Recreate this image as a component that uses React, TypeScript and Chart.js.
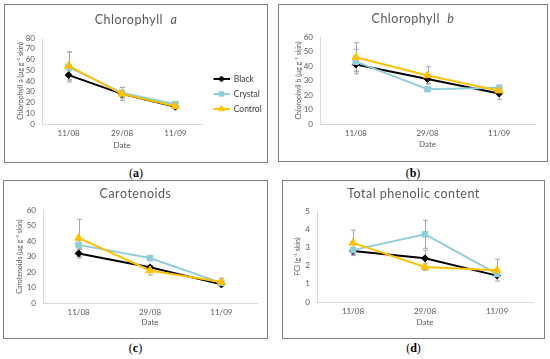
import React, { useEffect, useRef } from 'react';
import { Chart, registerables } from 'chart.js';
import { drawPoint } from 'chart.js/helpers';

Chart.register(...registerables);

// ---------- data ----------
const dates = ['11/08', '29/08', '11/09'];
const seriesNames = ['Black', 'Crystal', 'Control'];

const chlA_Black = [45.5, 28, 16];
const chlA_Crystal = [53, 29, 18.5];
const chlA_Control = [54, 28, 16.5];
const chlA_BlackErr = [4.5, 3, 1];
const chlA_CrystalErr = [14, 5, 2];
const chlA_ControlErr = [13, 6, 1.5];

const chlB_Black = [41, 31, 21];
const chlB_Crystal = [43, 24, 25];
const chlB_Control = [46, 33.5, 23];
const chlB_BlackErr = [4.5, 3, 4];
const chlB_CrystalErr = [8.5, 1, 1.5];
const chlB_ControlErr = [10, 6, 2];

const car_Black = [32, 23, 12];
const car_Crystal = [37.5, 29, 13];
const car_Control = [42, 21, 13.5];
const car_BlackErr = [3, 1, 1];
const car_CrystalErr = [3, 1.5, 1.5];
const car_ControlErr = [12, 3, 2.5];

const tpc_Black = [2.8, 2.4, 1.45];
const tpc_Crystal = [2.85, 3.72, 1.55];
const tpc_Control = [3.25, 1.92, 1.75];
const tpc_BlackErr = [0.2, 0.45, 0.05];
const tpc_CrystalErr = [0.1, 0.77, 0.15];
const tpc_ControlErr = [0.7, 0.18, 0.6];

// ---------- styles ----------
const COLORS = ['#000000', '#92CDDC', '#FFC000'];
const STYLES = ['rectRot', 'rect', 'triangle'];
const RADII = [3.5, 4, 4.5];

Chart.defaults.font.family = 'Lato, "Open Sans", sans-serif';

function makeIcon(color: string, style: string, radius: number) {
  const c = document.createElement('canvas');
  c.width = 21;
  c.height = 10;
  const ctx = c.getContext('2d')!;
  ctx.strokeStyle = color;
  ctx.lineWidth = 2;
  ctx.beginPath();
  ctx.moveTo(5, 5);
  ctx.lineTo(21, 5);
  ctx.stroke();
  ctx.fillStyle = color;
  ctx.lineWidth = 1;
  drawPoint(ctx as any, { pointStyle: style as any, radius: radius * 0.8, rotation: 0, borderWidth: 1 } as any, 13, 5);
  return c;
}

const errorBarsPlugin = {
  id: 'errorBars',
  beforeDatasetsDraw(chart: any) {
    const ctx = chart.ctx;
    const ys = chart.scales.y;
    ctx.save();
    ctx.strokeStyle = '#A6A6A6';
    ctx.lineWidth = 1;
    chart.data.datasets.forEach((ds: any, i: number) => {
      const meta = chart.getDatasetMeta(i);
      (ds.errors || []).forEach((e: number, j: number) => {
        const pt = meta.data[j];
        if (!pt) return;
        const v = ds.data[j];
        const t = ys.getPixelForValue(v + e);
        const b = ys.getPixelForValue(v - e);
        const x = Math.round(pt.x) + 0.5;
        ctx.beginPath();
        ctx.moveTo(x, t);
        ctx.lineTo(x, b);
        ctx.moveTo(x - 2.5, t);
        ctx.lineTo(x + 2.5, t);
        ctx.moveTo(x - 2.5, b);
        ctx.lineTo(x + 2.5, b);
        ctx.stroke();
      });
    });
    ctx.restore();
  },
};

type Props = {
  box: { left: number; top: number; width: number; height: number };
  title: React.ReactNode;
  titleY: number;
  label: string;
  labelY: number;
  yTitle: string;
  yMax: number;
  yStep: number;
  values: number[][];
  errors: number[][];
  pad: { left: number; right: number; top: number; bottom: number };
  yWidth: number;
  xHeight: number;
  legendWidth?: number;
};

function ChartPanel(p: Props) {
  const ref = useRef<HTMLCanvasElement>(null);
  const cw = p.box.width - 2;
  const ch = p.box.height - 2;

  useEffect(() => {
    if (!ref.current) return;
    const icons = seriesNames.map((_, i) => makeIcon(COLORS[i], STYLES[i], RADII[i]));
    const legendWidthPlugin = {
      id: 'legendWidth',
      beforeUpdate(chart: any) {
        const lg = chart.legend;
        if (lg && p.legendWidth && !lg.__wrapped) {
          const orig = lg.fit.bind(lg);
          lg.fit = () => {
            orig();
            lg.width = p.legendWidth;
          };
          lg.__wrapped = true;
        }
      },
    };
    const chart = new Chart(ref.current, {
      type: 'line',
      data: {
        labels: dates,
        datasets: seriesNames.map((name, i) => ({
          label: name,
          data: p.values[i],
          errors: p.errors[i],
          borderColor: COLORS[i],
          backgroundColor: COLORS[i],
          borderWidth: 2,
          pointStyle: STYLES[i] as any,
          pointRadius: RADII[i],
          pointBorderWidth: 1,
          pointBackgroundColor: COLORS[i],
          pointBorderColor: COLORS[i],
          tension: 0,
          order: 2 - i,
        })) as any,
      },
      options: {
        responsive: false,
        animation: false,
        devicePixelRatio: 1,
        events: [],
        layout: { padding: p.pad },
        scales: {
          x: {
            offset: true,
            grid: { display: false, drawTicks: false },
            border: { display: true, color: '#D9D9D9', width: 1 },
            ticks: { color: '#595959', font: { size: 8 }, padding: 5 },
            title: { display: true, text: 'Date', color: '#595959', font: { size: 8 }, padding: 0 },
            afterFit: (s: any) => {
              s.height = p.xHeight;
            },
          },
          y: {
            min: 0,
            max: p.yMax,
            grid: { display: false, drawTicks: false },
            border: { display: true, color: '#D9D9D9', width: 1 },
            ticks: { stepSize: p.yStep, color: '#595959', font: { size: 8 }, padding: 7, autoSkip: false },
            title: { display: true, text: p.yTitle, color: '#595959', font: { size: 7 }, padding: 0 },
            afterFit: (s: any) => {
              s.width = p.yWidth;
            },
          },
        },
        plugins: {
          title: { display: false },
          tooltip: { enabled: false },
          legend: {
            display: !!p.legendWidth,
            position: 'right',
            labels: {
              usePointStyle: true,
              pointStyleWidth: 21,
              padding: 6.5,
              color: '#404040',
              font: { size: 8.5 },
              generateLabels: () =>
                seriesNames.map((n, i) => ({
                  text: n,
                  pointStyle: icons[i] as any,
                  fillStyle: COLORS[i],
                  strokeStyle: COLORS[i],
                  lineWidth: 0,
                  hidden: false,
                  datasetIndex: i,
                  fontColor: '#404040',
                })),
            },
          },
        } as any,
      },
      plugins: [errorBarsPlugin, legendWidthPlugin] as any,
    });
    return () => chart.destroy();
  }, []);

  return (
    <>
      <div
        style={{
          position: 'absolute',
          left: p.box.left,
          top: p.box.top,
          width: p.box.width - 2,
          height: p.box.height - 2,
          border: '1px solid #7F7F7F',
        }}
      >
        <canvas ref={ref} width={cw} height={ch} style={{ display: 'block' }} />
      </div>
      <div
        style={{
          position: 'absolute',
          left: p.box.left,
          width: p.box.width,
          top: p.titleY - 8,
          height: 16,
          lineHeight: '16px',
          textAlign: 'center',
          fontFamily: 'Lato, "Open Sans", sans-serif',
          fontSize: 12.5,
          letterSpacing: '0.5px',
          color: '#595959',
          whiteSpace: 'pre',
        }}
      >
        {p.title}
      </div>
      <div
        style={{
          position: 'absolute',
          left: p.box.left,
          width: p.box.width,
          top: p.labelY - 8,
          height: 16,
          lineHeight: '16px',
          textAlign: 'center',
          fontFamily: '"Liberation Serif", "DejaVu Serif", serif',
          fontSize: 12,
          color: '#000',
        }}
      >
        (<b>{p.label}</b>)
      </div>
    </>
  );
}

export default function App() {
  useEffect(() => {
    document.body.style.margin = '0';
  }, []);
  return (
    <div style={{ position: 'relative', width: 550, height: 359, background: '#fff', overflow: 'hidden' }}>
      <ChartPanel
        box={{ left: 4, top: 4, width: 264, height: 159 }}
        title={<>Chlorophyll  <i>a</i></>}
        titleY={20}
        label="a"
        labelY={173}
        yTitle="Chlorophyll a (μg g⁻¹ skin)"
        yMax={80}
        yStep={10}
        values={[chlA_Black, chlA_Crystal, chlA_Control]}
        errors={[chlA_BlackErr, chlA_CrystalErr, chlA_ControlErr]}
        pad={{ left: 12, right: 0, top: 33, bottom: 12.2 }}
        yWidth={25}
        xHeight={25.8}
        legendWidth={65}
      />
      <ChartPanel
        box={{ left: 278, top: 4, width: 270, height: 158 }}
        title={<>Chlorophyll  <i>b</i></>}
        titleY={19}
        label="b"
        labelY={173}
        yTitle="Chlorophyll b (μg g⁻¹ skin)"
        yMax={60}
        yStep={10}
        values={[chlB_Black, chlB_Crystal, chlB_Control]}
        errors={[chlB_BlackErr, chlB_CrystalErr, chlB_ControlErr]}
        pad={{ left: 16, right: 12, top: 32, bottom: 12.2 }}
        yWidth={25}
        xHeight={24.8}
      />
      <ChartPanel
        box={{ left: 3, top: 180, width: 265, height: 159 }}
        title={<>Carotenoids</>}
        titleY={194}
        label="c"
        labelY={348}
        yTitle="Carotenoids (μg g⁻¹ skin)"
        yMax={60}
        yStep={10}
        values={[car_Black, car_Crystal, car_Control]}
        errors={[car_BlackErr, car_CrystalErr, car_ControlErr]}
        pad={{ left: 12, right: 10, top: 29, bottom: 11.2 }}
        yWidth={27}
        xHeight={23.8}
      />
      <ChartPanel
        box={{ left: 282, top: 180, width: 263, height: 159 }}
        title={<>Total phenolic content</>}
        titleY={194}
        label="d"
        labelY={348}
        yTitle="FCI (g⁻¹ skin)"
        yMax={5}
        yStep={1}
        values={[tpc_Black, tpc_Crystal, tpc_Control]}
        errors={[tpc_BlackErr, tpc_CrystalErr, tpc_ControlErr]}
        pad={{ left: 11, right: 11, top: 30, bottom: 11.2 }}
        yWidth={23}
        xHeight={24.8}
      />
    </div>
  );
}
